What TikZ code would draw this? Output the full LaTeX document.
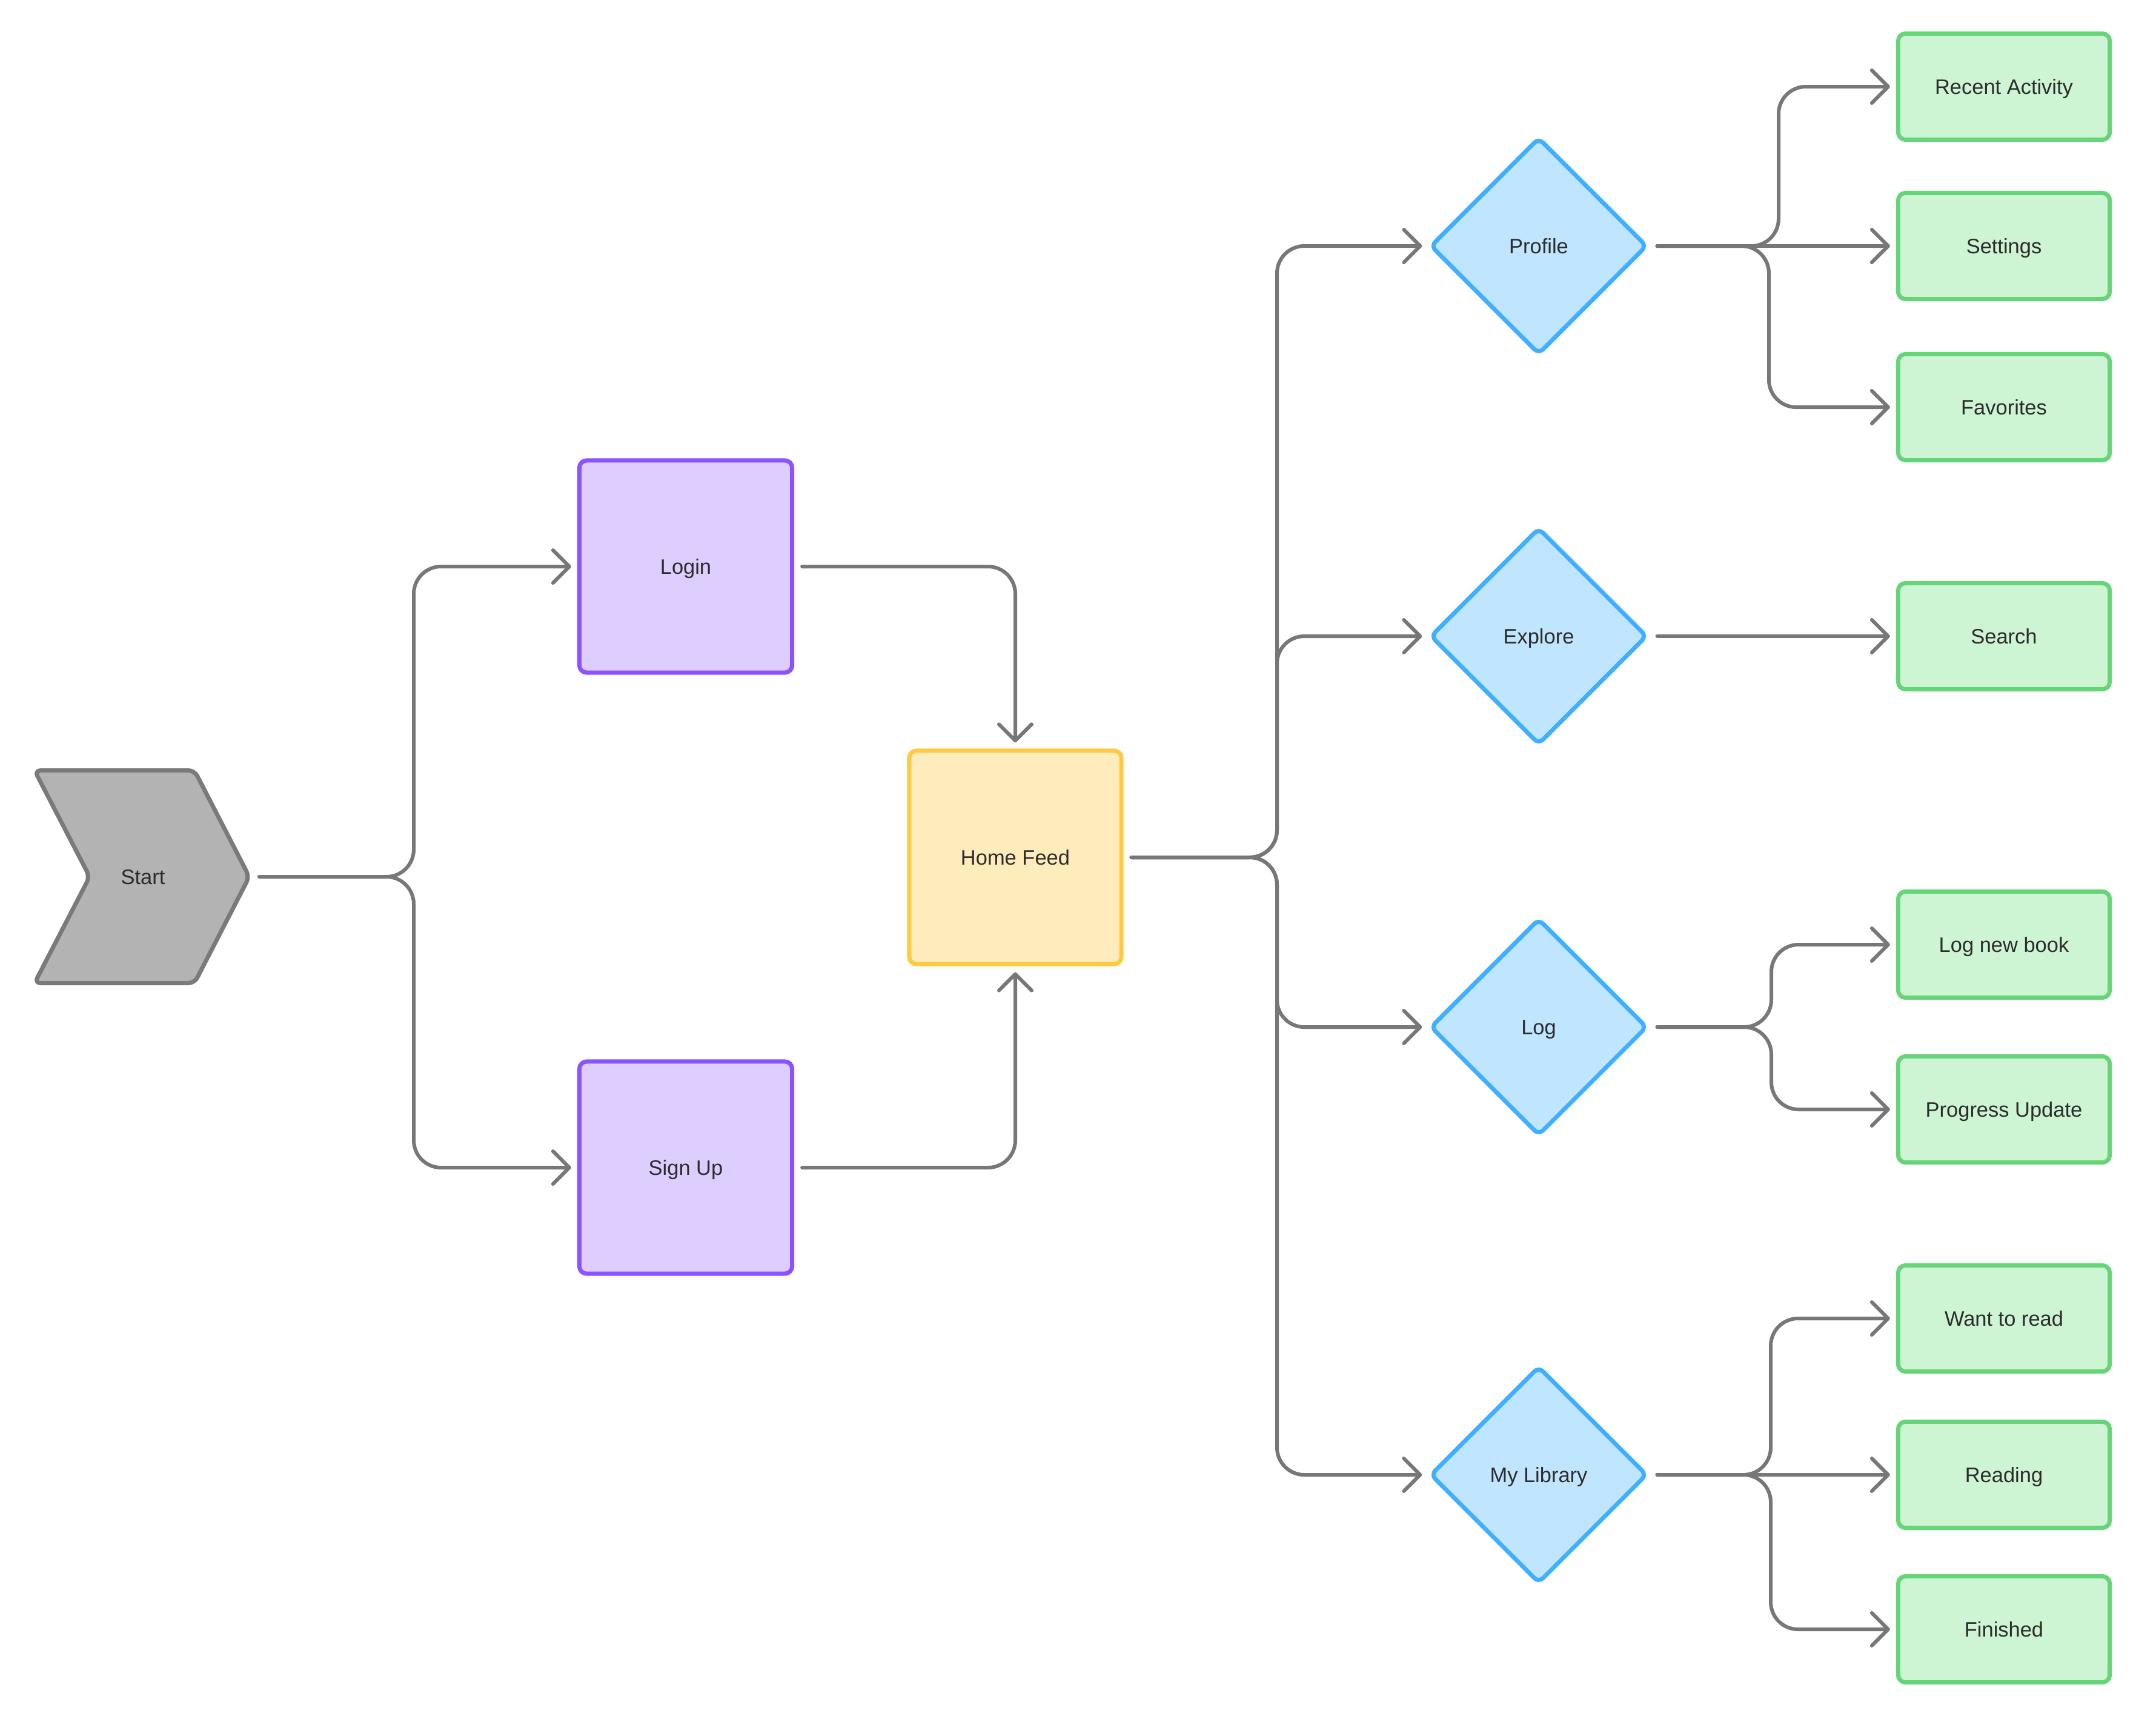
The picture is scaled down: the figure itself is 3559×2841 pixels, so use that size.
\documentclass[tikz,border=0pt]{standalone}
\usepackage{fontspec}
\setmainfont{Liberation Sans}
\usetikzlibrary{arrows.meta,shapes.geometric,calc}
\definecolor{txt}{HTML}{2C2C2C}
\definecolor{connC}{HTML}{777777}
\definecolor{purpleB}{HTML}{8B53FF}
\definecolor{purpleF}{HTML}{DECDFF}
\definecolor{yellowB}{HTML}{FFC940}
\definecolor{yellowF}{HTML}{FFECBD}
\definecolor{blueB}{HTML}{41AFFF}
\definecolor{blueF}{HTML}{C0E5FF}
\definecolor{greenB}{HTML}{68D47A}
\definecolor{greenF}{HTML}{CDF4D3}
\definecolor{grayB}{HTML}{7A7A7A}
\definecolor{grayF}{HTML}{B3B3B3}
\begin{document}
\begin{tikzpicture}[x=0.01cm,y=-0.01cm,
  every node/.style={font=\fontsize{9.8pt}{11.5pt}\selectfont, text=txt, text height=0.716em, text depth=0pt},
  basebox/.style={rectangle, line width=0.07cm, rounded corners=0.12cm, inner sep=0},
  purplebox/.style={basebox, draw=purpleB, fill=purpleF, minimum width=3.51cm, minimum height=3.50cm},
  yellowbox/.style={basebox, draw=yellowB, fill=yellowF, minimum width=3.50cm, minimum height=3.52cm},
  greenbox/.style={basebox, draw=greenB, fill=greenF, minimum width=3.49cm, minimum height=1.75cm},
  decision/.style={diamond, aspect=1, draw=blueB, fill=blueF, line width=0.07cm, rounded corners=0.1cm, minimum width=3.58cm, minimum height=3.58cm, inner sep=0},
  startnode/.style={rectangle, minimum width=3.58cm, minimum height=3.57cm, inner sep=0, outer sep=0},
  chevron/.style={draw=grayB, fill=grayF, line width=0.07cm, rounded corners=0.1cm, line join=round},
  conn/.style={draw=connC, line width=0.06cm, line cap=round, line join=round, rounded corners=0.45cm,
    shorten <=0.13cm, shorten >=0.1cm, -{Straight Barb[length=0.27cm, width=0.54cm, round]}}
]
\fill[white] (0,0) rectangle (3559,2841);
\useasboundingbox (0,0) rectangle (3559,2841);

% trunk coordinates
\coordinate (tA) at (683,0);
\coordinate (tB) at (2108,0);
\coordinate (tP1) at (2936,0);
\coordinate (tP2) at (2920,0);
\coordinate (tL) at (2924,0);
\coordinate (tM) at (2923,0);

% start chevron
\draw[chevron] (57,1271.5) -- (321,1271.5) -- (411.5,1447) -- (321,1622.5) -- (57,1622.5) -- (148,1447) -- cycle;
\node[startnode] (start) at (236,1447) {Start};

\node[purplebox] (login) at (1132,935) {Login};
\node[purplebox] (signup) at (1132,1927) {Sign Up};
\node[yellowbox] (hf) at (1676,1415) {Home Feed};

\node[decision] (profile) at (2540,406) {Profile};
\node[decision] (explore) at (2540,1050) {Explore};
\node[decision] (logd) at (2540,1695) {Log};
\node[decision] (lib) at (2540,2434) {My Library};

\node[greenbox] (recent) at (3308,143) {Recent Activity};
\node[greenbox] (settings) at (3308,406) {Settings};
\node[greenbox] (fav) at (3308,672) {Favorites};
\node[greenbox] (search) at (3308,1050) {Search};
\node[greenbox] (lognew) at (3308,1559) {Log new book};
\node[greenbox] (progress) at (3308,1831) {Progress Update};
\node[greenbox] (want) at (3308,2176) {Want to read};
\node[greenbox] (reading) at (3308,2434) {Reading};
\node[greenbox] (finished) at (3308,2689) {Finished};

% connectors
\draw[conn] (start.east) -- (start.east -| tA) |- (login.west);
\draw[conn] (start.east) -- (start.east -| tA) |- (signup.west);
\draw[conn] (login.east) -| (hf.north);
\draw[conn] (signup.east) -| (hf.south);

\draw[conn] (hf.east) -- (hf.east -| tB) |- (profile.west);
\draw[conn] (hf.east) -- (hf.east -| tB) |- (explore.west);
\draw[conn] (hf.east) -- (hf.east -| tB) |- (logd.west);
\draw[conn] (hf.east) -- (hf.east -| tB) |- (lib.west);

\draw[conn] (profile.east) -- (profile.east -| tP1) |- (recent.west);
\draw[conn] (profile.east) -- (settings.west);
\draw[conn] (profile.east) -- (profile.east -| tP2) |- (fav.west);

\draw[conn] (explore.east) -- (search.west);

\draw[conn] (logd.east) -- (logd.east -| tL) |- (lognew.west);
\draw[conn] (logd.east) -- (logd.east -| tL) |- (progress.west);

\draw[conn] (lib.east) -- (lib.east -| tM) |- (want.west);
\draw[conn] (lib.east) -- (reading.west);
\draw[conn] (lib.east) -- (lib.east -| tM) |- (finished.west);
\end{tikzpicture}
\end{document}
